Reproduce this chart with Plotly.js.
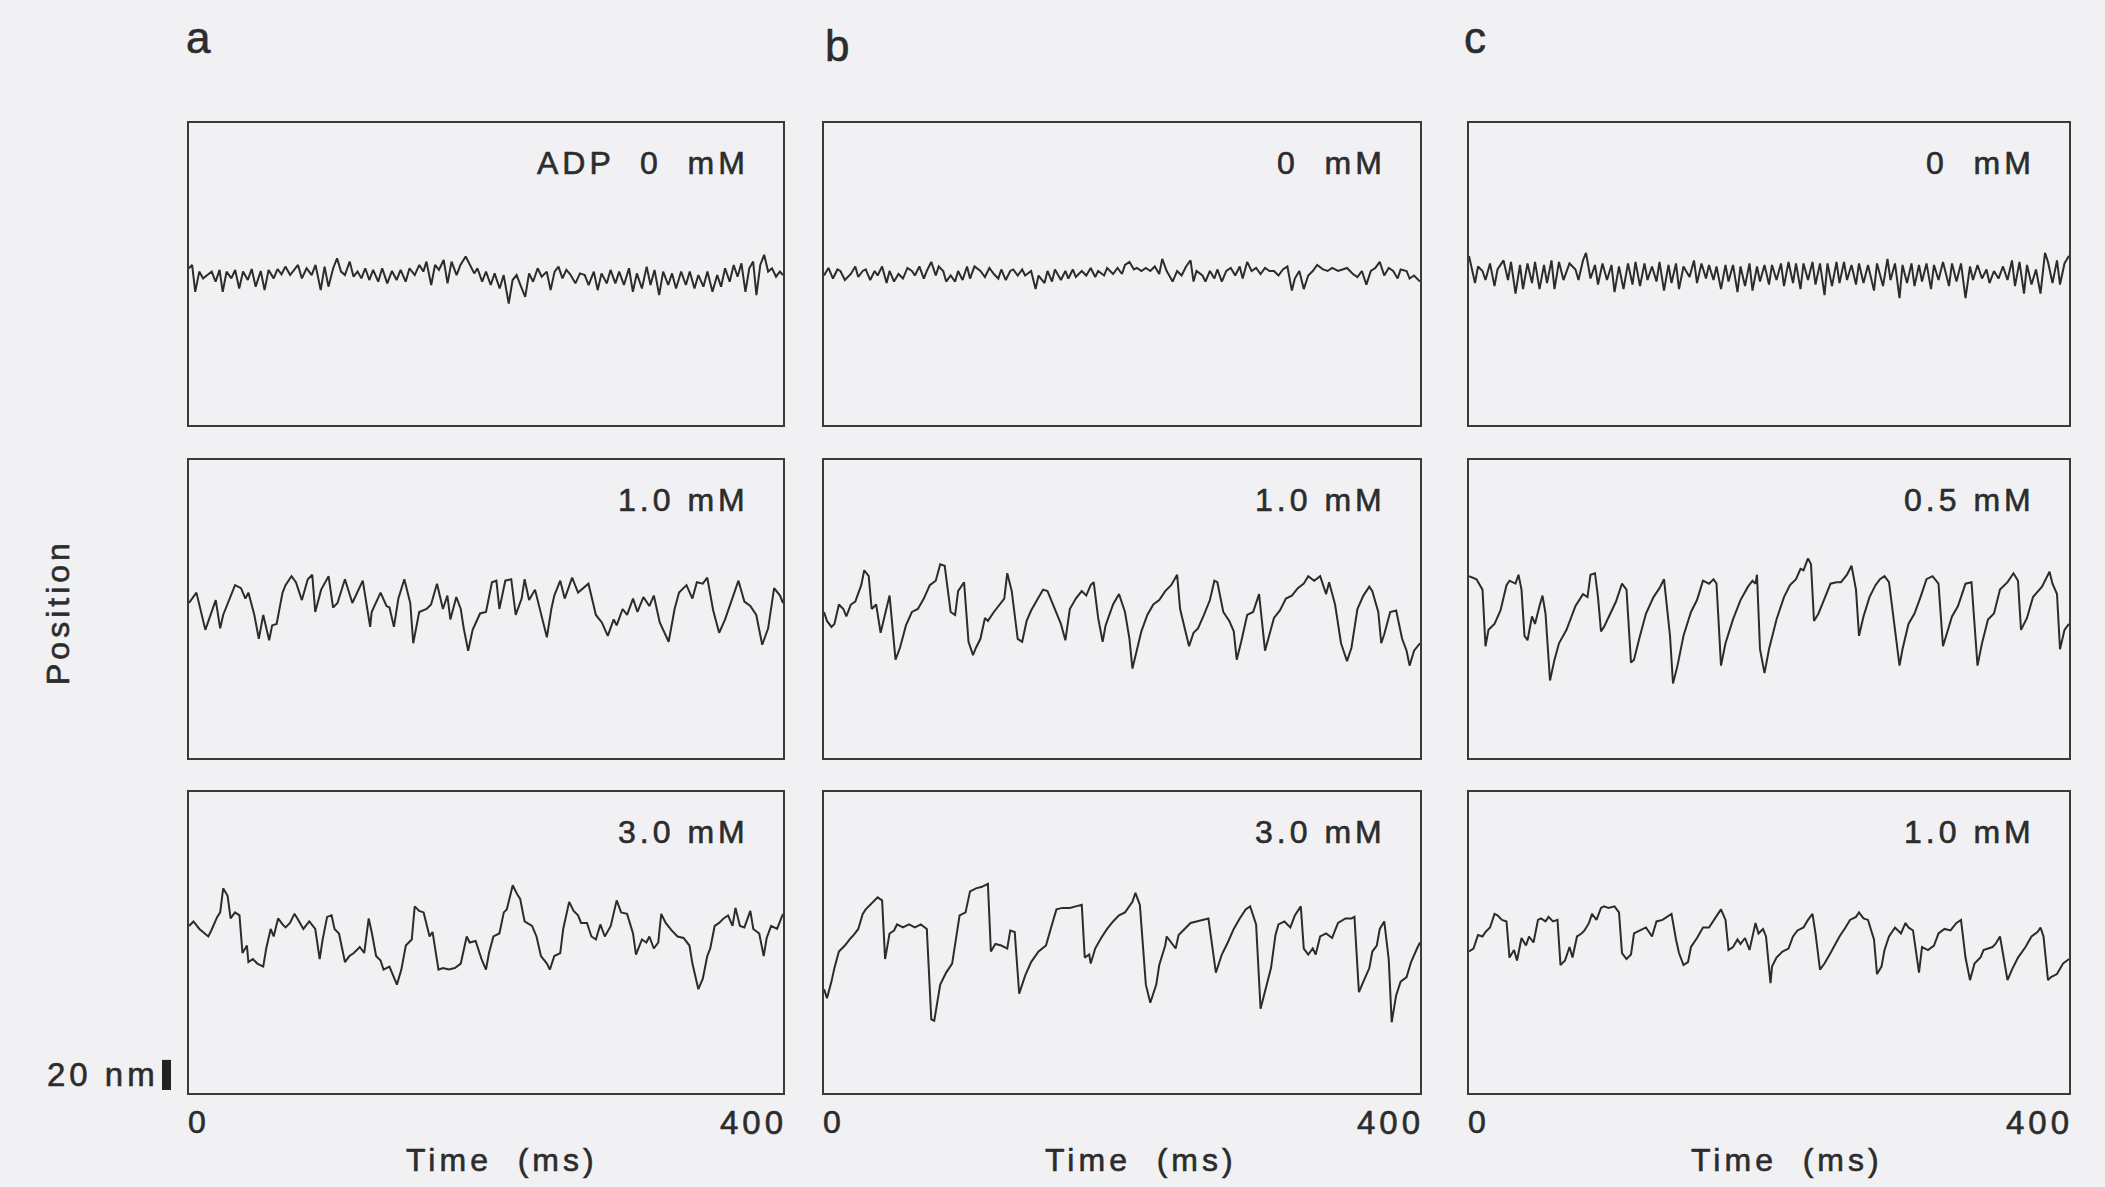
<!DOCTYPE html>
<html><head><meta charset="utf-8">
<script src="https://cdn.plot.ly/plotly-3.0.1.min.js"></script>
<style>
html,body{margin:0;padding:0;background:#f1f1f3;}
#chart{width:2105px;height:1187px;}
svg text{letter-spacing:4px;}
#chart svg .annotation-text{stroke:#2c2c2c;stroke-width:0.6px;}
</style></head><body><div id="chart"></div><script>
// ---- data: time (ms) and bead position (nm) ----
const columnLetters = ["a", "b", "c"];
const concLabels = ["ADP  0  mM", "0  mM", "0  mM", "1.0 mM", "1.0 mM", "0.5 mM", "3.0 mM", "3.0 mM", "1.0 mM"];
const xTickVals = [0, 400];
const xTickText = ["0", "400"];
const xAxisTitle = "Time  (ms)";
const yAxisTitle = "Position";
const scaleBarLabel = "20 nm";
const scaleBarNm = [-98, -78];

// column a, 0 mM
const tA1 = [0,2.1,4.2,6.9,9.5,12.1,15.3,17.9,20.6,22.7,25.3,28.5,31.1,33.8,36.4,39.6,42.2,44.9,48.3,50.9,
53.6,57,59.6,62.3,64.9,68.1,70.7,73.4,76,79.2,82.6,85.2,88.7,91.3,93.9,97.1,99.7,102.4,105,108.2,
110.8,113.5,116.1,118.7,121.4,124,127.4,130.1,133.5,136.7,139.8,142.5,145.9,148.5,152,155.1,157.8,159.9,163.1,165.7,
168.3,171.5,174.1,176.8,180.2,182.8,186.3,189.4,192.1,194.2,197.4,200,203.2,205.8,209.2,211.9,215.3,217.9,220.6,223.2,
226.4,229,231.7,234.8,237.5,240.9,243.5,246.2,248.8,251.5,254.1,256.7,260.2,263.3,266.5,269.1,272.6,275.2,277.8,281.3,
283.9,287.1,289.7,292.9,296.3,298.9,301.6,305,308.2,310.8,313.5,316.6,319.3,322.7,325.3,328,331.4,334.6,337.2,340.4,
343,346.4,349.1,352.5,355.7,358.3,361,364.1,366.8,369.4,372,374.7,377.3,379.9,382.1,384.7,387.3,390,392.6,395.3,
397.9,400];
const yA1 = [3.8,6,-11.8,1.6,-2.9,-0.7,1.6,-5.1,2.7,-11.8,1.6,-2.9,2.7,-9.6,1.6,-4,3.3,-8.4,2,-10.7,
2.7,-2.9,3.3,-0.2,4.9,-0.7,2.7,6,-2.9,3.8,-0.7,6,-10.7,4.9,-8.4,3.8,10.4,1.6,-0.7,8.2,
-1.8,1.6,-2.9,3.8,-4,2.7,-5.1,3.8,-6.2,2,-4,2.7,-5.1,3.8,-0.7,6,1.6,8.2,-7.3,6,
2.7,9.3,-6.2,8.2,-0.7,6,11.6,6,0.4,3.8,-5.1,1.6,-7.3,0.4,-9.6,-0.7,-19.6,-4,-0.7,-7.3,
-15.1,0.4,-5.1,3.8,-1.8,1.6,-10.7,1.6,4.9,-2.9,2.7,-0.2,-6.2,0.4,-0.7,-7.3,1.6,-10.7,0.4,-6.2,
2.7,-6.2,1.6,-7.3,3.8,-11.8,0.4,-9.6,4.9,-7.3,2.7,-14,1.6,-7.3,0.4,-9.6,1.6,-7.3,1.6,-9.6,
-0.7,-8.4,1.6,-11.8,-0.7,-8.4,3.8,-5.1,6,-1.8,7.1,-11.8,3.8,8.2,-14,6,12.7,1.6,3.8,-1.8,
1.6,-0.7];

// column b, 0 mM
const tB1 = [0,3,6,9,11,14,18,21,23,26,28,31,34,36,39,42,44,47,50,53,
56,59,61,64,67,69,72,75,77,80,82,85,88,90,93,96,98,101,105,108,
111,114,117,119,122,125,127,130,133,135,139,142,144,148,150,153,155,159,162,164,
167,169,173,176,179,182,184,188,190,194,197,200,202,205,208,210,213,216,219,222,
225,227,230,233,234,237,240,243,246,248,250,254,256,259,262,264,267,270,273,276,
279,281,284,287,290,293,296,299,302,305,308,311,314,316,319,322,325,328,331,335,
338,341,345,348,351,355,358,361,364,367,370,373,376,379,382,385,387,391,393,396,
400];
const yB1 = [-1,4,-3,3,2,-4,0,5,-2,2,3,-4,2,-1,5,-6,2,-5,0,-3,
4,2,-1,5,-3,2,8,-1,5,2,-5,-1,-5,2,-4,5,-3,5,2,-2,
4,0,-3,3,-4,2,3,-1,3,-1,2,-10,-1,-6,2,-5,3,-4,2,-3,
3,-2,2,-1,4,-2,2,-1,4,0,4,0,6,8,3,4,2,4,2,5,
0,10,2,-3,-5,2,-1,5,9,-5,2,-1,-5,2,-3,3,-5,2,4,-1,
5,-3,8,2,4,0,4,2,2,-1,3,5,-11,-3,2,-10,-1,2,6,3,
2,4,2,3,4,0,-2,2,-7,2,4,8,-1,4,2,-3,3,2,-3,-1,
-5];

// column c, 0 mM
const tC1 = [0,2,4,6,9,11,14,17,19,23,26,28,31,34,36,39,42,44,47,50,
52,55,57,60,63,67,71,73,76,78,81,84,86,89,92,95,97,100,103,106,
109,111,114,117,119,122,125,127,130,133,135,138,140,143,147,150,152,155,158,160,
163,165,168,171,173,176,179,181,184,187,189,192,194,197,200,202,205,208,210,213,
216,218,221,223,226,229,231,234,237,239,242,245,247,250,252,255,258,260,263,266,
270,272,276,279,281,284,287,289,292,295,297,300,302,305,308,310,313,316,320,322,
325,328,331,334,336,339,342,345,347,350,353,356,359,362,364,367,370,372,375,378,
381,384,386,389,392,394,397,400];
const yC1 = [12,3,-6,5,2,-4,7,-8,3,9,-4,8,-13,6,-10,7,-6,8,-10,6,
-6,9,-10,8,-4,7,3,-4,9,14,-3,6,-7,7,-4,6,-12,5,-10,7,
-7,8,-8,7,-4,5,-5,8,-11,6,-6,7,-10,5,-2,9,-6,7,-3,6,
-4,5,-10,6,-5,6,-12,5,-8,7,-11,5,-5,6,-7,6,-4,7,-8,8,
-6,7,-10,7,-4,8,-7,7,-14,7,-8,8,-6,8,-4,6,-7,7,-6,6,
-11,7,-8,10,-4,7,-16,6,-6,7,-8,6,-5,7,-10,6,-4,8,-8,7,
-5,7,-16,5,-4,6,-3,3,-6,2,-3,5,-4,9,-8,8,-13,6,-7,3,
-13,14,8,-6,9,-7,7,12];

// column a, 1.0 mM
const tA2 = [0,5,11,18,21,23,31,35,38,40,44,47,50,54,56,59,63,65,69,72,
76,80,83,85,89,94,97,100,105,108,110,117,122,123,129,133,135,138,141,145,
149,151,155,160,163,167,171,174,176,180,183,185,188,191,196,200,204,207,209,213,
217,220,224,226,229,233,241,244,246,250,253,258,262,269,274,278,282,286,288,292,
295,299,302,306,310,313,317,323,327,330,335,339,342,346,349,353,357,361,365,370,
374,378,382,386,390,394,398,400];
const yA2 = [4,11,-14,6,-13,-4,16,14,7,11,-4,-20,-4,-21,-11,-10,11,16,22,18,
6,20,23,-2,13,22,1,4,20,11,4,19,-12,-2,11,2,1,-12,7,20,
4,-23,-2,0,3,17,0,9,-7,8,0,-13,-28,-14,-3,-2,18,19,0,19,
20,-4,7,20,6,13,-19,0,9,19,7,21,11,17,-4,-9,-18,-7,-11,0,
-4,7,-2,8,2,9,-9,-22,0,11,16,7,18,17,21,-1,-16,-7,4,19,
5,2,-4,-24,-13,14,9,4];

// column b, 1.0 mM
const tB2 = [0,2,5,7,10,13,15,18,21,25,27,30,32,35,38,40,44,48,51,55,
59,63,67,71,75,78,81,85,88,90,94,97,100,102,105,108,110,114,118,121,
123,126,130,133,136,139,143,147,150,152,155,159,162,165,169,173,176,179,181,184,
187,189,194,198,202,205,207,210,213,217,221,225,229,233,237,239,242,245,248,251,
255,259,262,264,268,272,275,277,280,284,288,292,296,300,302,306,310,314,318,322,
325,329,333,337,339,343,347,351,354,358,362,366,368,372,374,376,380,384,388,391,
393,396,400];
const yB2 = [-2,-8,-12,-10,3,0,-5,3,5,16,26,22,0,3,-16,-8,9,-34,-26,-11,
-2,0,7,16,19,30,29,-2,-4,12,18,-22,-31,-26,-20,-6,-8,-2,3,7,
24,12,-20,-22,-8,-1,6,13,12,7,0,-10,-21,0,7,12,9,16,18,-6,
-22,-11,3,10,-2,-20,-40,-28,-15,-4,3,6,12,16,23,0,-13,-25,-16,-13,
-4,6,19,18,-2,-8,-15,-34,-22,-4,-2,10,-28,-13,-6,-1,7,9,14,17,
22,19,22,10,18,3,-23,-35,-26,0,9,15,12,-2,-23,-17,-2,-1,-20,-28,
-38,-28,-23];

// column c, 0.5 mM
const tC2 = [0,5,9,11,13,17,21,25,27,31,33,35,37,39,42,44,47,49,51,54,
57,60,65,71,76,79,81,84,86,88,90,94,98,102,105,108,110,114,118,123,
127,130,134,136,139,143,148,152,156,160,163,165,168,171,176,181,186,189,191,192,
194,197,200,205,210,214,218,221,223,226,228,230,233,237,241,245,248,252,255,258,
260,263,267,271,274,277,280,287,289,293,297,301,305,309,313,316,318,322,326,331,
335,339,342,346,350,354,359,363,366,368,372,376,382,387,389,392,394,397,400];
const yC2 = [22,20,13,-25,-14,-10,-1,16,19,17,23,13,-18,-21,-5,-10,2,9,-3,-48,
-34,-23,-14,2,10,8,23,24,8,-15,-12,-3,5,17,13,-36,-34,-18,-3,8,
14,20,-18,-50,-38,-18,-2,6,19,17,20,17,-38,-23,-7,6,15,19,17,23,
-27,-43,-27,-7,8,16,20,27,26,34,30,-8,-3,7,17,18,18,23,29,13,
-18,-5,8,16,20,22,18,-38,-27,-10,-3,8,20,22,17,-25,-18,-5,2,17,
18,-38,-23,-7,-3,13,18,24,19,-14,-6,8,15,25,17,10,-27,-14,-10];

// column a, 3.0 mM
const tA3 = [0,3,7,13,15,19,21,23,26,28,31,34,36,39,40,43,46,50,52,55,
57,60,63,65,68,71,73,77,81,85,88,90,93,96,98,101,105,108,111,115,
118,121,123,126,129,131,135,138,140,143,146,150,152,155,158,162,164,168,171,175,
179,183,187,189,193,197,200,202,205,209,212,214,218,221,223,226,231,234,237,241,
243,246,250,252,256,259,262,264,268,271,274,277,280,284,288,291,295,299,301,305,
308,310,313,316,318,321,325,329,333,337,339,343,346,349,351,354,357,360,363,366,
368,371,374,378,380,384,387,389,392,396,400];
const yA3 = [11,14,9,4,8,17,20,36,31,16,20,18,-7,-2,-13,-11,-14,-16,-4,9,
4,16,12,10,13,19,16,9,14,9,-11,2,17,18,9,6,-13,-9,-7,-3,
-7,16,7,-9,-12,-18,-16,-24,-28,-18,-2,2,24,21,20,4,7,-18,-17,-18,
-17,-14,4,0,1,-11,-18,-7,4,6,20,22,38,32,29,14,11,4,-9,-14,
-18,-9,-7,9,27,21,18,13,13,4,2,12,4,11,28,20,19,6,-8,2,
0,4,-4,0,19,13,8,4,3,-2,-14,-31,-24,-9,-4,11,13,16,18,11,
23,11,10,21,9,6,-9,3,11,9,19];

// column b, 3.0 mM
const tB3 = [0,2,5,7,10,14,18,20,23,26,28,31,34,36,39,41,44,47,49,53,
57,61,65,69,72,74,78,82,86,89,91,95,98,102,106,110,112,115,119,123,
125,128,131,135,139,144,149,153,156,160,165,169,173,175,178,179,182,186,190,194,
198,202,204,207,209,212,216,219,223,225,229,230,233,236,238,242,246,250,254,258,
263,267,271,275,279,283,286,290,293,296,300,303,305,309,313,316,320,322,325,328,
330,333,337,341,345,350,354,356,359,362,366,368,371,373,376,379,381,384,387,391,
394,398,400];
const yB3 = [-31,-37,-26,-17,-6,-2,3,5,9,19,22,25,28,30,28,-11,6,8,12,10,
12,10,12,9,-51,-52,-28,-20,-14,7,18,20,34,36,37,39,-6,-1,-2,-4,
8,7,-34,-22,-13,-6,-2,12,22,23,23,24,25,-10,-8,-14,-4,3,9,14,
18,20,23,27,33,25,-28,-40,-28,-15,-2,4,0,-4,5,9,13,14,15,16,
-20,-8,0,9,16,22,24,12,-44,-33,-17,5,12,14,10,18,24,-4,-8,-4,
-8,4,6,3,13,16,16,17,-33,-26,-17,-6,-2,9,14,-11,-53,-35,-26,-23,
-13,-4,0];

// column c, 1.0 mM
const tC3 = [0,3,6,9,11,14,17,19,22,25,27,30,32,35,38,40,43,46,48,51,
53,56,59,61,64,67,69,72,75,77,80,82,85,88,90,93,97,100,102,105,
108,110,114,118,122,125,129,133,135,138,140,143,146,148,152,156,160,164,168,171,
173,176,179,181,184,187,191,193,196,198,201,202,205,209,213,216,219,223,226,229,
231,234,237,241,243,247,251,254,258,260,263,266,270,272,275,277,280,284,288,291,
293,296,300,302,306,310,313,317,321,325,328,331,334,337,341,343,349,351,354,357,
359,362,366,371,375,379,381,383,386,388,392,396,400];
const yC3 = [-6,-4,5,4,7,10,19,18,15,14,-10,-5,-12,3,-2,4,0,15,16,14,
17,14,15,-15,-12,-3,-10,4,6,8,13,19,15,23,24,23,24,20,-7,-11,
-8,6,8,10,4,14,15,18,19,2,-7,-15,-13,-3,3,10,10,16,22,15,
-5,-3,2,-1,3,-5,13,6,9,4,-27,-16,-10,-6,-4,4,8,10,15,19,
6,-18,-14,-7,-3,4,10,15,17,20,16,15,2,-21,-16,-5,4,10,6,13,
10,8,-20,-3,-5,-2,6,9,8,13,15,-10,-25,-14,-10,-5,-3,-1,4,-12,
-25,-18,-10,-3,4,7,10,4,-25,-23,-21,-14,-11];

const panels = [[tA1,yA1],[tB1,yB1],[tC1,yC1],[tA2,yA2],[tB2,yB2],[tC2,yC2],[tA3,yA3],[tB3,yB3],[tC3,yC3]];

// ---- layout ----
const W = 2105, H = 1187;
const colPx = [[189,783],[824,1420],[1469,2069]];
const rowPx = [[123,425],[460,758],[792,1093]];
const FONT = "Liberation Sans, Arial, Helvetica, sans-serif";
const INK = "#2c2c2c";

const traces = [];
const layout = {
  width: W, height: H,
  margin: {l:0, r:0, t:0, b:0},
  paper_bgcolor: "#f1f1f3",
  plot_bgcolor: "#f1f1f3",
  showlegend: false,
  font: {family: FONT, size: 32, color: INK},
  annotations: [],
  shapes: []
};

panels.forEach((p, i) => {
  const n = i + 1;
  const r = Math.floor(i / 3), c = i % 3;
  const xa = n === 1 ? "x" : "x" + n;
  const ya = n === 1 ? "y" : "y" + n;
  traces.push({
    type: "scatter", mode: "lines", x: p[0], y: p[1],
    xaxis: xa, yaxis: ya,
    line: {color: INK, width: 2}, hoverinfo: "skip"
  });
  const axBase = {showline: true, mirror: true, linecolor: "#3a3a3a", linewidth: 2,
    showgrid: false, zeroline: false, ticks: "", showticklabels: false, fixedrange: true};
  layout["xaxis" + (n === 1 ? "" : n)] = Object.assign({}, axBase, {
    domain: [colPx[c][0] / W, colPx[c][1] / W], range: [0, 400], anchor: ya
  });
  layout["yaxis" + (n === 1 ? "" : n)] = Object.assign({}, axBase, {
    domain: [1 - rowPx[r][1] / H, 1 - rowPx[r][0] / H], range: [-100, 100], anchor: xa
  });
  layout.annotations.push({
    text: concLabels[i], showarrow: false,
    xref: xa + " domain", x: 1, xshift: -32, xanchor: "right",
    yref: ya + " domain", y: 1, yshift: -40, yanchor: "middle",
    font: {size: 32, color: INK, family: FONT}
  });
  if (r === 2) {
    layout.annotations.push({
      text: xTickText[0], showarrow: false, xref: xa, x: xTickVals[0], xanchor: "left", xshift: -3,
      yref: "paper", y: 1 - 1122 / H, yanchor: "middle", font: {size: 32, color: INK, family: FONT}
    });
    layout.annotations.push({
      text: xTickText[1], showarrow: false, xref: xa, x: xTickVals[1], xanchor: "right", xshift: 6,
      yref: "paper", y: 1 - 1122 / H, yanchor: "middle", font: {size: 33, color: INK, family: FONT}
    });
    layout.annotations.push({
      text: xAxisTitle, showarrow: false, xref: "paper", x: [502, 1141, 1787][c] / W, xanchor: "center",
      yref: "paper", y: 1 - 1160 / H, yanchor: "middle", font: {size: 32, color: INK, family: FONT}
    });
  }
});

// column letters
[[200, 37], [839, 45], [1477, 37]].forEach((pos, c) => {
  layout.annotations.push({
    text: columnLetters[c], showarrow: false, xref: "paper", yref: "paper",
    x: pos[0] / W, y: 1 - pos[1] / H, xanchor: "center", yanchor: "middle",
    font: {size: 44, color: INK, family: FONT}
  });
});

// y label and scale bar
layout.annotations.push({
  text: yAxisTitle, showarrow: false, textangle: -90, xref: "paper", yref: "paper",
  x: 58 / W, y: 1 - 612 / H, xanchor: "center", yanchor: "middle",
  font: {size: 32, color: INK, family: FONT}
});
layout.annotations.push({
  text: scaleBarLabel, showarrow: false, xref: "paper", yref: "paper",
  x: 161 / W, y: 1 - 1074 / H, xanchor: "right", yanchor: "middle",
  font: {size: 33, color: INK, family: FONT}
});
layout.shapes.push({
  type: "rect", xref: "paper", yref: "y7", x0: 162 / W, x1: 171 / W,
  y0: scaleBarNm[0], y1: scaleBarNm[1], fillcolor: "#222", line: {width: 0}
});

Plotly.newPlot("chart", traces, layout, {displayModeBar: false, staticPlot: true});
</script></body></html>
